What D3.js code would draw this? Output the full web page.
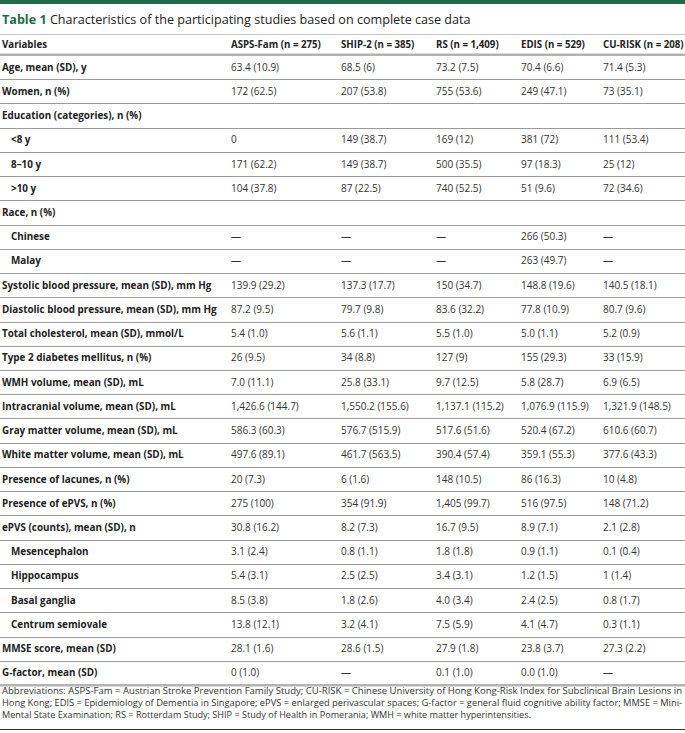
<!DOCTYPE html>
<html lang="en">
<head>
<meta charset="UTF-8">
<script src="https://d3js.org/d3.v7.min.js"></script>
<title>Table 1</title>
<style>
    body { margin: 0; background: #fff; }
    svg text { font-family: 'Open Sans', sans-serif; fill: #222; }
    .lbl { font-weight: 700; font-size: 9.9px; }
    .val { font-size: 10px; fill: #333; }
    .head { font-weight: 700; font-size: 9.7px; }
    .note { font-size: 9.1px; fill: #333; }
</style>
</head>
<body>
<svg width="685" height="733"></svg>
<script>
// Table contents
const columns = ["ASPS-Fam (n = 275)", "SHIP-2 (n = 385)", "RS (n = 1,409)", "EDIS (n = 529)", "CU-RISK (n = 208)"];

const variables = [
    "Age, mean (SD), y",
    "Women, n (%)",
    "Education (categories), n (%)",
    "<8 y",
    "8–10 y",
    ">10 y",
    "Race, n (%)",
    "Chinese",
    "Malay",
    "Systolic blood pressure, mean (SD), mm Hg",
    "Diastolic blood pressure, mean (SD), mm Hg",
    "Total cholesterol, mean (SD), mmol/L",
    "Type 2 diabetes mellitus, n (%)",
    "WMH volume, mean (SD), mL",
    "Intracranial volume, mean (SD), mL",
    "Gray matter volume, mean (SD), mL",
    "White matter volume, mean (SD), mL",
    "Presence of lacunes, n (%)",
    "Presence of ePVS, n (%)",
    "ePVS (counts), mean (SD), n",
    "Mesencephalon",
    "Hippocampus",
    "Basal ganglia",
    "Centrum semiovale",
    "MMSE score, mean (SD)",
    "G-factor, mean (SD)"
];

const indented = ["<8 y", "8–10 y", ">10 y", "Chinese", "Malay",
    "Mesencephalon", "Hippocampus", "Basal ganglia", "Centrum semiovale"];

const aspsFam = ["63.4 (10.9)", "172 (62.5)", "", "0", "171 (62.2)", "104 (37.8)", "", "—", "—",
    "139.9 (29.2)", "87.2 (9.5)", "5.4 (1.0)", "26 (9.5)", "7.0 (11.1)", "1,426.6 (144.7)",
    "586.3 (60.3)", "497.6 (89.1)", "20 (7.3)", "275 (100)", "30.8 (16.2)", "3.1 (2.4)",
    "5.4 (3.1)", "8.5 (3.8)", "13.8 (12.1)", "28.1 (1.6)", "0 (1.0)"];

const ship2 = ["68.5 (6)", "207 (53.8)", "", "149 (38.7)", "149 (38.7)", "87 (22.5)", "", "—", "—",
    "137.3 (17.7)", "79.7 (9.8)", "5.6 (1.1)", "34 (8.8)", "25.8 (33.1)", "1,550.2 (155.6)",
    "576.7 (515.9)", "461.7 (563.5)", "6 (1.6)", "354 (91.9)", "8.2 (7.3)", "0.8 (1.1)",
    "2.5 (2.5)", "1.8 (2.6)", "3.2 (4.1)", "28.6 (1.5)", "—"];

const rs = ["73.2 (7.5)", "755 (53.6)", "", "169 (12)", "500 (35.5)", "740 (52.5)", "", "—", "—",
    "150 (34.7)", "83.6 (32.2)", "5.5 (1.0)", "127 (9)", "9.7 (12.5)", "1,137.1 (115.2)",
    "517.6 (51.6)", "390.4 (57.4)", "148 (10.5)", "1,405 (99.7)", "16.7 (9.5)", "1.8 (1.8)",
    "3.4 (3.1)", "4.0 (3.4)", "7.5 (5.9)", "27.9 (1.8)", "0.1 (1.0)"];

const edis = ["70.4 (6.6)", "249 (47.1)", "", "381 (72)", "97 (18.3)", "51 (9.6)", "", "266 (50.3)", "263 (49.7)",
    "148.8 (19.6)", "77.8 (10.9)", "5.0 (1.1)", "155 (29.3)", "5.8 (28.7)", "1,076.9 (115.9)",
    "520.4 (67.2)", "359.1 (55.3)", "86 (16.3)", "516 (97.5)", "8.9 (7.1)", "0.9 (1.1)",
    "1.2 (1.5)", "2.4 (2.5)", "4.1 (4.7)", "23.8 (3.7)", "0.0 (1.0)"];

const cuRisk = ["71.4 (5.3)", "73 (35.1)", "", "111 (53.4)", "25 (12)", "72 (34.6)", "", "—", "—",
    "140.5 (18.1)", "80.7 (9.6)", "5.2 (0.9)", "33 (15.9)", "6.9 (6.5)", "1,321.9 (148.5)",
    "610.6 (60.7)", "377.6 (43.3)", "10 (4.8)", "148 (71.2)", "2.1 (2.8)", "0.1 (0.4)",
    "1 (1.4)", "0.8 (1.7)", "0.3 (1.1)", "27.3 (2.2)", "—"];

const footnote = [
    "Abbreviations: ASPS-Fam = Austrian Stroke Prevention Family Study; CU-RISK = Chinese University of Hong Kong-Risk Index for Subclinical Brain Lesions in",
    "Hong Kong; EDIS = Epidemiology of Dementia in Singapore; ePVS = enlarged perivascular spaces; G-factor = general fluid cognitive ability factor; MMSE = Mini-",
    "Mental State Examination; RS = Rotterdam Study; SHIP = Study of Health in Pomerania; WMH = white matter hyperintensities."
];

const series = [aspsFam, ship2, rs, edis, cuRisk];

// Layout
const width = 685;
const green = "#1f6b4b";

const svg = d3.select("svg");

// Scales
const y = d3.scaleBand()
    .domain(variables)
    .range([55, 685]);

const x = d3.scaleOrdinal()
    .domain(columns)
    .range([231, 341, 436, 521, 603]);

// Top green band
svg.append("rect")
    .attr("x", 0).attr("y", 0)
    .attr("width", width).attr("height", 4)
    .attr("fill", green);

// Title
const title = svg.append("text")
    .attr("x", 2).attr("y", 24)
    .style("font-size", "12.6px");
title.append("tspan").attr("font-weight", 700).style("fill", green).text("Table 1 ");
title.append("tspan").text("Characteristics of the participating studies based on complete case data");

svg.append("line")
    .attr("x1", 0).attr("x2", width)
    .attr("y1", 34.5).attr("y2", 34.5)
    .attr("stroke", "#c4c4c4");

// Header row
svg.append("text").attr("class", "head")
    .attr("x", 2).attr("y", 45).attr("dy", "0.35em")
    .text("Variables");

svg.selectAll(".colhead")
    .data(columns)
    .join("text")
    .attr("class", "head colhead")
    .attr("x", d => x(d))
    .attr("y", 45).attr("dy", "0.35em")
    .text(d => d);

// Thick rule under header and below last row
svg.append("rect")
    .attr("x", 0).attr("y", y.range()[0] - 1.5)
    .attr("width", width).attr("height", 2.5)
    .attr("fill", "#b3b3b3");

svg.append("rect")
    .attr("x", 0).attr("y", y.range()[1] - 1)
    .attr("width", width).attr("height", 2.5)
    .attr("fill", "#b3b3b3");

// Row separators
svg.selectAll(".sep")
    .data(variables.slice(1))
    .join("line")
    .attr("class", "sep")
    .attr("x1", 0).attr("x2", width)
    .attr("y1", d => Math.round(y(d)) + 0.5)
    .attr("y2", d => Math.round(y(d)) + 0.5)
    .attr("stroke", "#9a9a9a");

// Row labels
svg.selectAll(".lbl")
    .data(variables)
    .join("text")
    .attr("class", "lbl")
    .attr("x", d => indented.includes(d) ? 11 : 2)
    .attr("y", d => y(d) + y.bandwidth() / 2)
    .attr("dy", "0.35em")
    .text(d => d);

// Cell values
columns.forEach((col, ci) => {
    svg.selectAll(".val-" + ci)
        .data(series[ci].map((v, i) => ({ v, row: variables[i] })))
        .join("text")
        .attr("class", "val val-" + ci)
        .attr("x", x(col))
        .attr("y", d => y(d.row) + y.bandwidth() / 2)
        .attr("dy", "0.35em")
        .text(d => d.v);
});

// Footnote (first two lines justified to the full width)
svg.selectAll(".note")
    .data(footnote)
    .join("text")
    .attr("class", "note")
    .attr("x", 2)
    .attr("y", (d, i) => 694 + i * 11.8)
    .attr("textLength", (d, i) => i < 2 ? 680 : null)
    .attr("lengthAdjust", "spacingAndGlyphs")
    .text(d => d);

svg.append("line")
    .attr("x1", 0).attr("x2", width)
    .attr("y1", 729.5).attr("y2", 729.5)
    .attr("stroke", "#333");
</script>
</body>
</html>
